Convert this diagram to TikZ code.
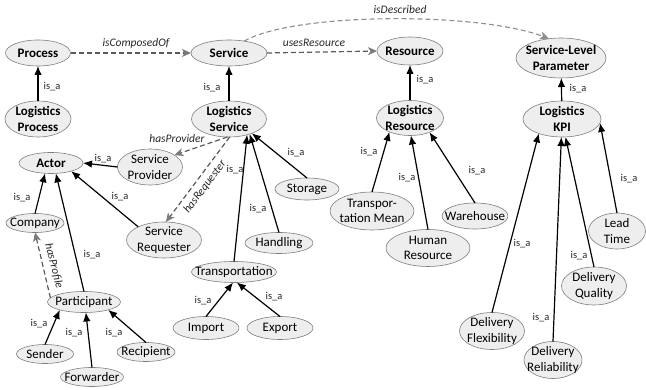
\documentclass[tikz,border=0pt]{standalone}
\usepackage{fontspec}
\setmainfont{Carlito}
\usetikzlibrary{shapes.geometric,arrows.meta}

\definecolor{nodefill}{HTML}{EEEEEE}
\definecolor{nodeline}{HTML}{7F7F7F}
\definecolor{reldark}{HTML}{5A5A5A}
\definecolor{reltip}{HTML}{7A7A7A}
\definecolor{rellight}{HTML}{8E8E8E}
\definecolor{labeltext}{HTML}{262626}

\tikzset{
  ent/.style={ellipse, draw=nodeline, fill=nodefill, line width=0.6pt,
    inner sep=0pt, outer sep=0pt},
  dim/.style 2 args={minimum width=#1pt, minimum height=#2pt},
  nm/.style={font=\fontsize{13}{15.5}\selectfont, align=center, inner sep=0pt},
  key/.style={font=\fontsize{13}{15.5}\selectfont\bfseries, align=center, inner sep=0pt},
  isa/.style={line width=1.2pt, -{Latex[length=9pt,width=7.5pt]}},
  rel/.style={draw=reldark, line width=1.2pt, dash pattern=on 5pt off 3pt,
    -{Stealth[length=9pt,width=8pt,inset=2.5pt,color=reltip]}},
  relsoft/.style={draw=rellight, line width=1.1pt, dash pattern=on 5pt off 3pt,
    -{Stealth[length=9pt,width=8pt,inset=2.5pt,color=rellight]}},
  isalbl/.style={font=\fontsize{10.5}{12}\selectfont, text=labeltext, inner sep=0pt},
  rellbl/.style={font=\fontsize{11.5}{13}\selectfont\itshape, text=labeltext, inner sep=0pt},
}

\begin{document}
\begin{tikzpicture}[x=1pt,y=-1pt]
\useasboundingbox (0,0) rectangle (646,390);

% ---- top-level concepts ----
\node[ent, dim={65}{26}, label={[key]center:Process}] (proc) at (38,53) {};
\node[ent, dim={76}{26}, label={[key]center:Service}] (svc) at (229,53) {};
\node[ent, dim={66}{28}, label={[key]center:Resource}] (res) at (410,51) {};
\node[ent, dim={90}{40}, label={[key]center:{Service-Level\\Parameter}}] (slp) at (561,58) {};

% ---- logistics specialisations ----
\node[ent, dim={66}{36}, label={[key]center:{Logistics\\Process}}] (lp) at (38,119) {};
\node[ent, dim={75}{36}, label={[key]center:{Logistics\\Service}}] (ls) at (229,119) {};
\node[ent, dim={67}{35}, label={[key]center:{Logistics\\Resource}}] (lr) at (410,118) {};
\node[ent, dim={78}{36}, label={[key]center:{Logistics\\KPI}}] (lkpi) at (562,119) {};

% ---- actors ----
\node[ent, dim={64}{21}, label={[key]center:Actor}] (actor) at (51,163) {};
\node[ent, dim={65}{36}, label={[nm]center:{Service\\Provider}}] (sp) at (150,167) {};
\node[ent, dim={75}{36}, label={[nm]center:{Service\\Requester}}] (sr) at (164,240) {};
\node[ent, dim={58}{19}, label={[nm]center:Company}] (comp) at (35,223) {};
\node[ent, dim={73}{21}, label={[nm]center:Participant}] (part) at (84,302) {};
\node[ent, dim={57}{19}, label={[nm]center:Sender}] (send) at (45,354) {};
\node[ent, dim={63}{19}, label={[nm]center:Forwarder}] (fwd) at (92,377) {};
\node[ent, dim={58}{19}, label={[nm]center:Recipient}] (recp) at (146,352) {};

% ---- service kinds ----
\node[ent, dim={85}{21}, label={[nm]center:Transportation}] (trans) at (234,272) {};
\node[ent, dim={66}{23}, label={[nm]center:Import}] (imp) at (206,328) {};
\node[ent, dim={66}{23}, label={[nm]center:Export}] (exp) at (280,328) {};
\node[ent, dim={68}{21}, label={[nm]center:Handling}] (hand) at (279,243) {};
\node[ent, dim={64}{22}, label={[nm]center:Storage}] (stor) at (307,189) {};

% ---- resource kinds ----
\node[ent, dim={84}{38}, label={[nm]center:{Transpor-\\tation Mean}}] (tm) at (372,211) {};
\node[ent, dim={84}{37}, label={[nm]center:{Human\\Resource}}] (hr) at (428,248) {};
\node[ent, dim={66}{26}, label={[nm]center:Warehouse}] (wh) at (475,216) {};

% ---- KPIs ----
\node[ent, dim={57}{36}, label={[nm]center:{Lead\\Time}}] (lt) at (617,231) {};
\node[ent, dim={65}{38}, label={[nm]center:{Delivery\\Quality}}] (dq) at (594,286) {};
\node[ent, dim={65}{37}, label={[nm]center:{Delivery\\Flexibility}}] (df) at (492,331) {};
\node[ent, dim={58}{37}, label={[nm]center:{Delivery\\Reliability}}] (dr) at (553,360) {};

% ---- is_a links ----
\draw[isa] (lp) -- (proc);
\draw[isa] (ls) -- (svc);
\draw[isa] (lr) -- (res);
\draw[isa] (lkpi) -- (slp);
\draw[isa] (sp.west) -- (actor.east);
\draw[isa] (sr.153) -- (actor.-22);
\draw[isa] (comp.north) -- (actor.-120);
\draw[isa] (part.north) -- (actor.-65);
\draw[isa] (send.north) -- (part.-162);
\draw[isa] (fwd.north) -- (part.-80);
\draw[isa] (recp.north) -- (part.-18);
\draw[isa] (imp.north) -- (trans.-95);
\draw[isa] (exp.north) -- (trans.-75);
\draw[isa] (trans.north) -- (ls.-41);
\draw[isa] (hand.north) -- (ls.-36);
\draw[isa] (stor.north) -- (ls.-32);
\draw[isa] (tm.north) -- (lr.-146);
\draw[isa] (hr.north) -- (lr.-87);
\draw[isa] (wh.north) -- (lr.-36);
\draw[isa] (df.north) -- (lkpi.-148);
\draw[isa] (dr.north) -- (lkpi.-92);
\draw[isa] (dq.north) -- (lkpi.-79);
\draw[isa] (lt.north) -- (lkpi.-6);

% ---- is_a labels ----
\node[isalbl] (t1) at (52,87) {is\_a};
\node[isalbl] (t2) at (212,88) {is\_a};
\node[isalbl] (t3) at (425,80) {is\_a};
\node[isalbl] (t4) at (578,89) {is\_a};
\node[isalbl] (t5) at (103,159) {is\_a};
\node[isalbl] (t6) at (22,198) {is\_a};
\node[isalbl] (t7) at (92,255) {is\_a};
\node[isalbl] (t8) at (120,197) {is\_a};
\node[isalbl] (t9) at (39,324) {is\_a};
\node[isalbl] (t10) at (74,333) {is\_a};
\node[isalbl] (t11) at (114,333) {is\_a};
\node[isalbl] (t12) at (203,301) {is\_a};
\node[isalbl] (t13) at (274,297) {is\_a};
\node[isalbl] (t14) at (235,170) {is\_a};
\node[isalbl] (t15) at (258,209) {is\_a};
\node[isalbl] (t16) at (296,153) {is\_a};
\node[isalbl] (t17) at (369,152) {is\_a};
\node[isalbl] (t18) at (407,178) {is\_a};
\node[isalbl] (t19) at (477,171) {is\_a};
\node[isalbl] (t20) at (522,244) {is\_a};
\node[isalbl] (t21) at (541,318) {is\_a};
\node[isalbl] (t22) at (579,256) {is\_a};
\node[isalbl] (t23) at (629,179) {is\_a};

% ---- object properties ----
\draw[rel] (proc.east) -- (svc.west);
\draw[rel] (svc.east) -- (res.west);
\draw[rel] (ls.-95) -- (sp.26);
\draw[rel] (ls.-88) -- (sr.84);
\draw[rel] (part.173) -- (comp.south);
\draw[relsoft] (svc.38) .. controls (295,12) and (480,12) .. (slp.122);

\node[rellbl] (r1) at (136,43) {isComposedOf};
\node[rellbl] (r2) at (314,43) {usesResource};
\node[rellbl] (r3) at (400,10) {isDescribed};
\node[rellbl] (r4) at (177,139) {hasProvider};
\node[rellbl, rotate=53] (r5) at (205,187) {hasRequester};
\node[rellbl, rotate=-76] (r6) at (54,266) {hasProfile};
\end{tikzpicture}
\end{document}
